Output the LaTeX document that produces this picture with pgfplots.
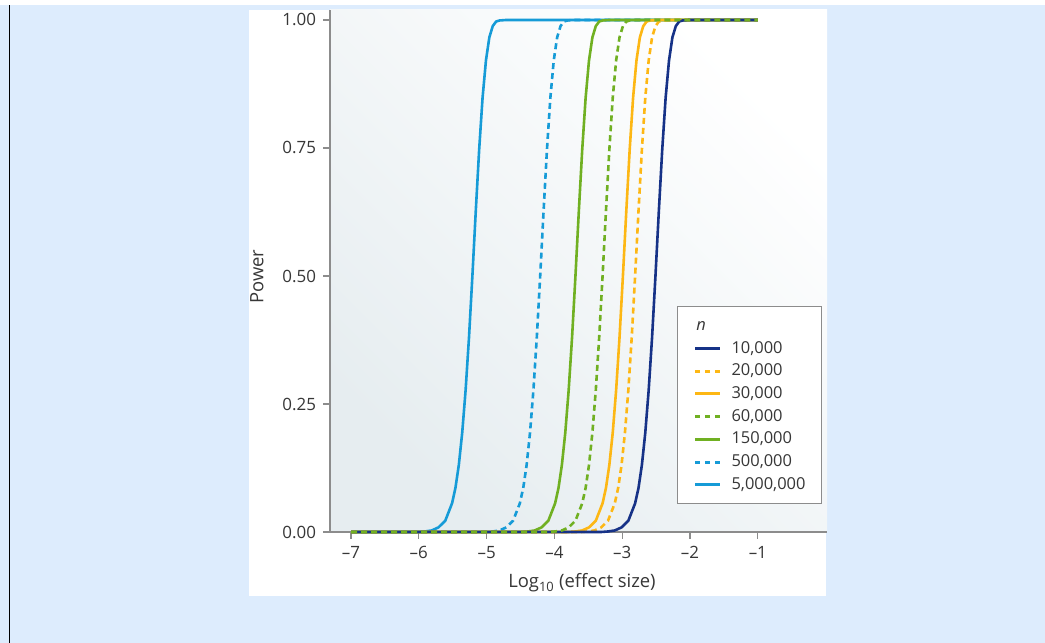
\documentclass[border=0pt]{standalone}
\usepackage{fontspec}
\setmainfont{Open Sans}
\usepackage{pgfplots}
\pgfplotsset{compat=1.18}
\definecolor{bgblue}{RGB}{221,236,253}
\definecolor{axisgray}{RGB}{140,140,140}
\definecolor{txtgray}{RGB}{55,55,55}
\definecolor{plotbg}{RGB}{230,237,240}
\definecolor{navyc}{RGB}{22,50,135}
\definecolor{yellowc}{RGB}{253,183,20}
\definecolor{greenc}{RGB}{112,176,34}
\definecolor{bluec}{RGB}{22,155,215}

\begin{document}
\begin{tikzpicture}[x=1bp,y=1bp]
\useasboundingbox (0,0) rectangle (1045,643);
\fill[white] (0,0) rectangle (1045,643);
\fill[bgblue] (0,0) rectangle (1045,638);
\fill[white] (249,47) rectangle (826,633);
\draw[black, line width=1.6bp] (9.5,0) -- (9.5,638);
\coordinate (O) at (330,111);

\begin{axis}[
  at={(O)}, anchor=south west,
  scale only axis, width=497bp, height=522bp,
  xmin=-7.31, xmax=0.02, ymin=0, ymax=1.0195,
  axis lines=left,
  axis line style={-, draw=axisgray, line width=1.4bp},
  axis background/.style={shade, top color=white, bottom color=plotbg, shading angle=-45},
  tick style={draw=axisgray, line width=1.3bp},
  tick align=outside, major tick length=7bp,
  xtick={-7,-6,-5,-4,-3,-2,-1},
  xticklabels={\textendash7,\textendash6,\textendash5,\textendash4,\textendash3,\textendash2,\textendash1},
  ytick={0,0.25,0.5,0.75,1},
  yticklabels={0.00,0.25,0.50,0.75,1.00},
  font=\fontsize{17}{20}\selectfont,
  ticklabel style={text=txtgray},
  xticklabel style={yshift=-4bp},
  yticklabel style={xshift=-3.5bp},
  xlabel={Log\textsubscript{10} (effect size)},
  ylabel={Power},
  xlabel style={at={(axis description cs:0.507,-0.107)}, anchor=base, text=txtgray, font=\fontsize{18.5}{22}\selectfont},
  ylabel style={at={(axis description cs:-0.147,0.489)}, anchor=center, text=txtgray, font=\fontsize{18.5}{22}\selectfont},
  clip=false,
  legend image code/.code={\draw[#1] (0bp,0bp) -- (25bp,0bp);},
  legend cell align=left,
  legend style={at={(0.99,0.054)}, anchor=south east,
    draw=axisgray, line width=1.2bp, fill=white,
    font=\fontsize{16.5}{20}\selectfont, text=txtgray,
    nodes={inner sep=0pt, text height=12bp, text depth=3bp},
    row sep=7.7bp, column sep=10bp, inner xsep=16bp, inner ysep=11bp},
  every axis plot/.append style={line width=2.6bp, line join=round, forget plot},
]
% 5,000,000
\addplot[bluec] coordinates {(-7,0) (-6.01,0) (-5.91,0.001) (-5.81,0.003) (-5.71,0.009) (-5.61,0.022) (-5.51,0.056) (-5.46,0.086) (-5.41,0.131) (-5.36,0.194) (-5.31,0.277) (-5.26,0.380) (-5.21,0.5) (-5.16,0.627) (-5.11,0.747) (-5.06,0.848) (-5.01,0.921) (-4.96,0.966) (-4.91,0.988) (-4.86,0.997) (-4.81,0.999) (-4.71,1) (-1,1)};
% 500,000
\addplot[bluec, dash pattern=on 6bp off 4bp] coordinates {(-7,0) (-5.01,0) (-4.91,0.001) (-4.81,0.003) (-4.71,0.009) (-4.61,0.022) (-4.51,0.056) (-4.46,0.086) (-4.41,0.131) (-4.36,0.194) (-4.31,0.277) (-4.26,0.380) (-4.21,0.5) (-4.16,0.627) (-4.11,0.747) (-4.06,0.848) (-4.01,0.921) (-3.96,0.966) (-3.91,0.988) (-3.86,0.997) (-3.81,0.999) (-3.71,1) (-1,1)};
% 150,000
\addplot[greenc] coordinates {(-7,0) (-4.49,0) (-4.39,0.001) (-4.29,0.003) (-4.19,0.009) (-4.09,0.022) (-3.99,0.056) (-3.94,0.086) (-3.89,0.131) (-3.84,0.194) (-3.79,0.277) (-3.74,0.380) (-3.69,0.5) (-3.64,0.627) (-3.59,0.747) (-3.54,0.848) (-3.49,0.921) (-3.44,0.966) (-3.39,0.988) (-3.34,0.997) (-3.29,0.999) (-3.19,1) (-1,1)};
% 30,000
\addplot[yellowc] coordinates {(-7,0) (-3.79,0) (-3.69,0.001) (-3.59,0.003) (-3.49,0.009) (-3.39,0.022) (-3.29,0.056) (-3.24,0.086) (-3.19,0.131) (-3.14,0.194) (-3.09,0.277) (-3.04,0.380) (-2.99,0.5) (-2.94,0.627) (-2.89,0.747) (-2.84,0.848) (-2.79,0.921) (-2.74,0.966) (-2.69,0.988) (-2.64,0.997) (-2.59,0.999) (-2.49,1) (-1,1)};
% 20,000
\addplot[yellowc, dash pattern=on 6bp off 4bp] coordinates {(-7,0) (-3.61,0) (-3.51,0.001) (-3.41,0.003) (-3.31,0.009) (-3.21,0.022) (-3.11,0.056) (-3.06,0.086) (-3.01,0.131) (-2.96,0.194) (-2.91,0.277) (-2.86,0.380) (-2.81,0.5) (-2.76,0.627) (-2.71,0.747) (-2.66,0.848) (-2.61,0.921) (-2.56,0.966) (-2.51,0.988) (-2.46,0.997) (-2.41,0.999) (-2.31,1) (-1,1)};
% 10,000
\addplot[navyc] coordinates {(-7,0) (-3.31,0) (-3.21,0.001) (-3.11,0.003) (-3.01,0.009) (-2.91,0.022) (-2.81,0.056) (-2.76,0.086) (-2.71,0.131) (-2.66,0.194) (-2.61,0.277) (-2.56,0.380) (-2.51,0.5) (-2.46,0.627) (-2.41,0.747) (-2.36,0.848) (-2.31,0.921) (-2.26,0.966) (-2.21,0.988) (-2.16,0.997) (-2.11,0.999) (-2.01,1) (-1,1)};
% 60,000
\addplot[greenc, dash pattern=on 6bp off 4bp] coordinates {(-7,0) (-4.09,0) (-3.99,0.001) (-3.89,0.003) (-3.79,0.009) (-3.69,0.022) (-3.59,0.056) (-3.54,0.086) (-3.49,0.131) (-3.44,0.194) (-3.39,0.277) (-3.34,0.380) (-3.29,0.5) (-3.24,0.627) (-3.19,0.747) (-3.14,0.848) (-3.09,0.921) (-3.04,0.966) (-2.99,0.988) (-2.94,0.997) (-2.89,0.999) (-2.79,1) (-1,1)};

\addlegendimage{legend image code/.code={\node[anchor=base west, inner sep=0pt, text=txtgray] at (0bp,-5bp) {\itshape n};}}
\addlegendentry{}
\addlegendimage{navyc, line width=3bp}
\addlegendentry{10,000}
\addlegendimage{yellowc, line width=3bp, dash pattern=on 5bp off 5bp}
\addlegendentry{20,000}
\addlegendimage{yellowc, line width=3bp}
\addlegendentry{30,000}
\addlegendimage{greenc, line width=3bp, dash pattern=on 5bp off 5bp}
\addlegendentry{60,000}
\addlegendimage{greenc, line width=3bp}
\addlegendentry{150,000}
\addlegendimage{bluec, line width=3bp, dash pattern=on 5bp off 5bp}
\addlegendentry{500,000}
\addlegendimage{bluec, line width=3bp}
\addlegendentry{5,000,000}
\end{axis}
\end{tikzpicture}
\end{document}
